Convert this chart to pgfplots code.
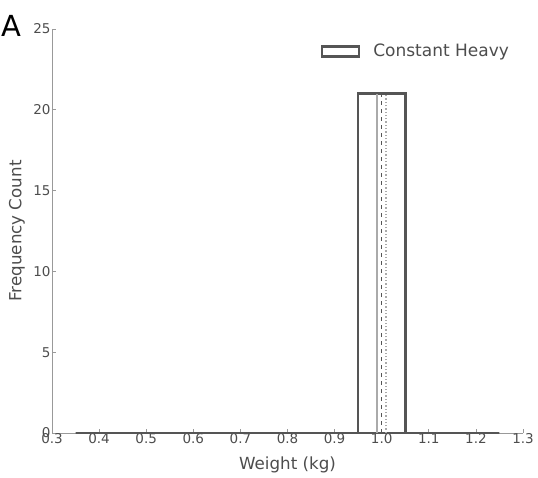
\documentclass[border=0pt]{standalone}
\usepackage{pgfplots}
\pgfplotsset{compat=1.18}
\usepackage{fontspec}
\setmainfont{DejaVu Sans}
\definecolor{txt}{HTML}{4D4D4D}
\definecolor{spine}{HTML}{999999}
\definecolor{bar}{HTML}{555555}
\definecolor{lgray}{HTML}{AAAAAA}
\begin{document}
\begin{tikzpicture}[x=1pt,y=1pt]
\path[use as bounding box] (0,0) rectangle (538,477);
\node[font=\fontsize{29}{32}\selectfont, text=black, inner sep=0pt] at (11,451.5) {A};
\begin{axis}[
  at={(52pt,44pt)}, anchor=south west,
  scale only axis, width=471pt, height=404pt,
  xmin=0.3, xmax=1.3, ymin=0, ymax=25,
  axis lines=left,
  axis line style={-, draw=spine, line width=1pt},
  tick align=inside,
  major tick length=4pt,
  tick style={draw=spine, line width=0.8pt},
  xtick={0.3,0.4,0.5,0.6,0.7,0.8,0.9,1.0,1.1,1.2,1.3},
  xticklabels={0.3,0.4,0.5,0.6,0.7,0.8,0.9,1.0,1.1,1.2,1.3},
  ytick={0,5,10,15,20,25},
  /pgf/number format/assume math mode=true,
  tick label style={font=\fontsize{13.5}{15}\selectfont, text=txt},
  xticklabel style={yshift=3pt},
  yticklabel style={xshift=2pt},
  xlabel={Weight (kg)},
  ylabel={Frequency Count},
  label style={font=\fontsize{16.7}{18}\selectfont, text=txt},
  xlabel style={at={(axis description cs:0.5,0)}, anchor=center, yshift=-32pt},
  ylabel style={at={(axis description cs:0,0.5)}, anchor=center, xshift=0pt, yshift=35pt},
  clip=false,
  legend style={draw=none, fill=none, at={(axis description cs:0.57,0.945)}, anchor=west,
    font=\fontsize{17}{19}\selectfont, text=txt, inner sep=0pt,
    /tikz/every odd column/.append style={column sep=11pt}},
  legend cell align=left,
]
\addplot[ybar interval, draw=bar, fill=none, line width=2.6pt,
  legend image code/.code={\draw[draw=bar, line width=2.6pt] (0pt,-5pt) rectangle (37pt,5pt);}]
  coordinates {(0.35,0) (0.45,0) (0.55,0) (0.65,0) (0.75,0) (0.85,0) (0.95,21) (1.05,0) (1.15,0) (1.25,0)};
\addlegendentry{Constant Heavy}
\addplot[forget plot, draw=lgray, line width=1.3pt] coordinates {(0.99,0) (0.99,21)};
\addplot[forget plot, draw=bar, line width=1.3pt, dash pattern=on 4pt off 4pt] coordinates {(1.0,0) (1.0,21)};
\addplot[forget plot, draw=lgray, line width=1.3pt, dotted] coordinates {(1.009,0) (1.009,21)};
\end{axis}
\end{tikzpicture}
\end{document}
